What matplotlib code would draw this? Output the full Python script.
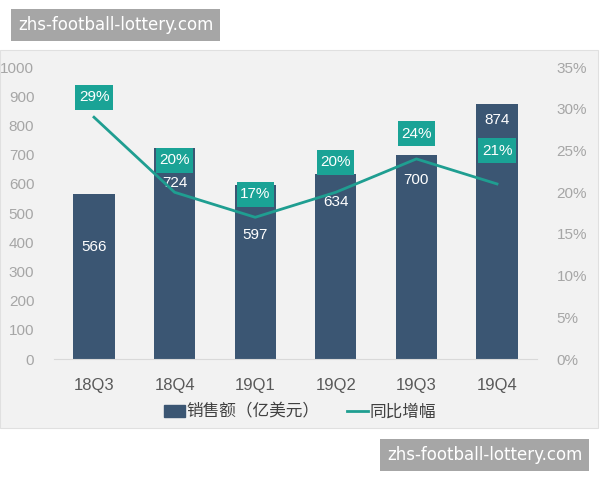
import matplotlib.pyplot as plt
import matplotlib.patches as mpatches
from matplotlib.lines import Line2D
from matplotlib.path import Path

plt.rcParams['font.family'] = ['Liberation Sans', 'Noto Sans CJK SC', 'DejaVu Sans']

# === DATA ===
quarters = ["18Q3", "18Q4", "19Q1", "19Q2", "19Q3", "19Q4"]
sales = [566, 724, 597, 634, 700, 874]          # 亿美元
growth = [29, 20, 17, 20, 24, 21]                # 同比增幅 %
left_ticks = [0, 100, 200, 300, 400, 500, 600, 700, 800, 900, 1000]
right_ticks = [0, 5, 10, 15, 20, 25, 30, 35]

# label placement (pixels): sales values below bar top, growth boxes above the line point
sales_label_drop = [53, 35, 50, 28, 25, 16]
growth_box_lift = [20, 32, 23, 30, 25, 33]

BAR_COLOR = "#3b5673"
LINE_COLOR = "#1f9e91"
BOX_COLOR = "#1aa396"
PANEL = "#f2f2f2"
TICK_GREY = "#a6a6a6"


def tall_box(x0, y0, width, height, mutation_size):
    # rectangle with less side padding than top/bottom padding
    px, py = 0.22 * mutation_size, 0.36 * mutation_size
    x0, y0 = x0 - px, y0 - py
    x1, y1 = x0 + width + 2 * px, y0 + height + 2 * py
    return Path([(x0, y0), (x1, y0), (x1, y1), (x0, y1), (x0, y0)], closed=True)


def main():
    fig = plt.figure(figsize=(6, 4.8), dpi=100)
    fig.patch.set_facecolor("white")

    # grey chart panel
    panel = mpatches.Rectangle((0, 0.108), 0.997, 0.788, transform=fig.transFigure,
                               facecolor=PANEL, edgecolor="#e0e0e0", lw=0.8, zorder=-5)
    fig.add_artist(panel)

    ax = fig.add_axes([0.0895, 0.252, 0.806, 0.608])
    ax.set_facecolor("none")
    x = range(len(quarters))

    ax.bar(x, sales, width=0.51, color=BAR_COLOR, zorder=2)
    ax.set_ylim(0, 1000)
    ax.set_xlim(-0.5, 5.5)
    ax.set_yticks(left_ticks)
    ax.set_xticks(list(x))
    ax.set_xticklabels(quarters, fontsize=12, color="#595959")
    ax.tick_params(axis="y", labelsize=11, labelcolor=TICK_GREY, length=0, pad=14)
    ax.tick_params(axis="x", length=0, pad=14)
    for s in ["top", "right", "left"]:
        ax.spines[s].set_visible(False)
    ax.spines["bottom"].set_color("#d9d9d9")

    for i, v in enumerate(sales):
        ax.annotate(str(v), (i, v), xytext=(0, -sales_label_drop[i]), textcoords="offset pixels",
                    ha="center", va="center", color="white", fontsize=11, zorder=5)

    ax2 = ax.twinx()
    ax2.set_ylim(0, 35)
    ax2.set_yticks(right_ticks)
    ax2.set_yticklabels([f"{t}%" for t in right_ticks])
    ax2.tick_params(axis="y", labelsize=11, labelcolor=TICK_GREY, length=0, pad=14)
    for s in ["top", "right", "left", "bottom"]:
        ax2.spines[s].set_visible(False)
    ax2.plot(list(x), growth, color=LINE_COLOR, lw=2, zorder=3)

    for i, g in enumerate(growth):
        ax2.annotate(f"{g}%", (i, g), xytext=(0, growth_box_lift[i]), textcoords="offset pixels",
                     ha="center", va="center", color="white", fontsize=11, zorder=6,
                     bbox=dict(boxstyle=tall_box, facecolor=BOX_COLOR, edgecolor="none"))

    handles = [mpatches.Patch(color=BAR_COLOR, label="销售额（亿美元）"),
               Line2D([0], [0], color=LINE_COLOR, lw=2, label="同比增幅")]
    fig.legend(handles=handles, loc="center", bbox_to_anchor=(0.5, 0.142), ncol=2, frameon=False,
               fontsize=12, handlelength=1.3, handletextpad=0.1, columnspacing=1.6,
               labelcolor="#404040")

    # watermark boxes
    fig.text(115.5 / 600, 1 - 25 / 480, "zhs-football-lottery.com", fontsize=12, color="white",
             family="DejaVu Sans", va="center", ha="center",
             bbox=dict(boxstyle="square,pad=0.4", facecolor="#a6a6a6", edgecolor="none"))
    fig.text(484.5 / 600, 1 - 455 / 480, "zhs-football-lottery.com", fontsize=12, color="white",
             family="DejaVu Sans", va="center", ha="center",
             bbox=dict(boxstyle="square,pad=0.4", facecolor="#a6a6a6", edgecolor="none"))

    fig.savefig("out.png", dpi=100)


if __name__ == "__main__":
    main()
